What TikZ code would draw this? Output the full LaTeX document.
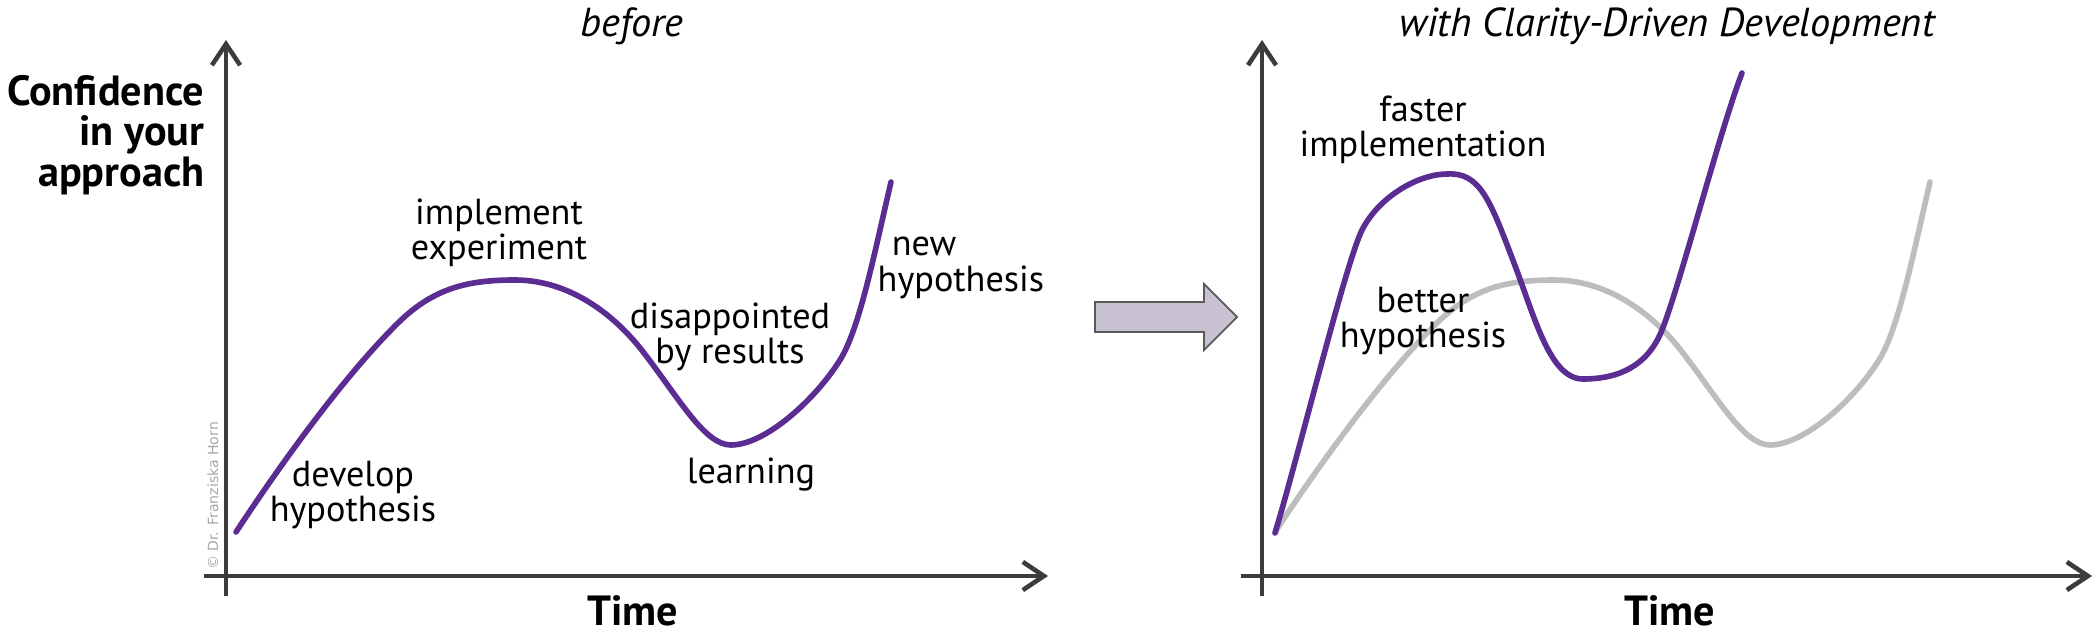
\documentclass[tikz,border=0pt]{standalone}
\usepackage{fontspec}
\setmainfont{PT Sans}
\newfontfamily\notefont{DejaVu Sans}
\usetikzlibrary{arrows.meta}

\definecolor{hypopurple}{HTML}{5B2C91}
\definecolor{oldgray}{HTML}{BDBDBD}
\definecolor{notegray}{HTML}{A6A6A6}
\definecolor{axisgray}{HTML}{3C3C3C}
\definecolor{arrowfill}{HTML}{C7C1D1}
\definecolor{arrowdraw}{HTML}{5A5A5A}

\tikzset{
  axis/.style={line width=1.3pt, draw=axisgray, -{Straight Barb[length=6pt,width=8pt]}},
  curve/.style={line width=1.6pt, line cap=round, line join=round},
  label/.style={font=\fontsize{10.3}{10}\selectfont, align=center, inner sep=0pt},
  title/.style={font=\fontsize{11.5}{12}\selectfont\itshape, inner sep=0pt},
  axislabel/.style={font=\fontsize{12}{11.6}\selectfont\bfseries, inner sep=0pt}
}

% the old curve, drawn left and again (gray) on the right
\newcommand{\beforecurve}[1]{%
  \draw[curve,#1] (236,532) .. controls (290,450) and (350,370) .. (399,322)
    .. controls (435,287) and (470,280) .. (515,280)
    .. controls (570,280) and (615,315) .. (644,353)
    .. controls (680,400) and (705,445) .. (731,445)
    .. controls (765,445) and (815,400) .. (840,360)
    .. controls (860,328) and (875,250) .. (891,182);}

\begin{document}
\begin{tikzpicture}[x=0.01cm, y=-0.01cm]
  \useasboundingbox (0,0) rectangle (2100,634);

  % left panel: before
  \coordinate (lybot) at (226,596);
  \coordinate (lytop) at (226,40);
  \coordinate (lxleft) at (204,576);
  \coordinate (lxright) at (1048,576);
  \draw[axis] (lybot) -- (lytop);
  \draw[axis] (lxleft) -- (lxright);
  \beforecurve{hypopurple}

  \node[title] (before) at (632,26) {before};
  \node[axislabel] (ltime) at (633,611) {Time};
  \node[axislabel, align=right, anchor=east] (conf) at (205,135) {Confidence\\in your\\approach};
  \node[label] (develop) at (353,495) {develop\\hypothesis};
  \node[label] (implement) at (499,233) {implement\\experiment};
  \node[label] (disappointed) at (730,337) {disappointed\\by results};
  \node[label] (learning) at (751,475) {learning};
  \node[label, align=left, anchor=west] (newhyp) at (877,268) {\hspace*{4pt}new\\hypothesis};
  \node[rotate=90, text=notegray, inner sep=0pt, font=\notefont\fontsize{4}{4}\selectfont] (copy) at (213,496) {© Dr. Franziska Horn};

  % big arrow in between
  \draw[fill=arrowfill, draw=arrowdraw, line width=0.5pt] (1095,302) -- (1204,302) -- (1204,284) -- (1237,317)
    -- (1204,350) -- (1204,332) -- (1095,332) -- cycle;

  % right panel: with CDD
  \coordinate (rybot) at (1262,596);
  \coordinate (rytop) at (1262,40);
  \coordinate (rxleft) at (1241,576);
  \coordinate (rxright) at (2092,576);
  \draw[axis] (rybot) -- (rytop);
  \draw[axis] (rxleft) -- (rxright);
  \begin{scope}[shift={(1039,0)}]
    \beforecurve{oldgray}
  \end{scope}
  \draw[curve, hypopurple] (1275,533) .. controls (1300,450) and (1345,265) .. (1362,230)
    .. controls (1380,195) and (1420,174) .. (1447,174)
    .. controls (1480,172) and (1490,200) .. (1514,263)
    .. controls (1535,318) and (1550,379) .. (1583,379)
    .. controls (1620,379) and (1648,365) .. (1662,330)
    .. controls (1680,285) and (1720,130) .. (1742,73);

  \node[title] (cdd) at (1667,26) {with Clarity-Driven Development};
  \node[axislabel] (rtime) at (1670,611) {Time};
  \node[label] (faster) at (1423,130) {faster\\implementation};
  \node[label] (better) at (1423,321) {better\\hypothesis};
\end{tikzpicture}
\end{document}
